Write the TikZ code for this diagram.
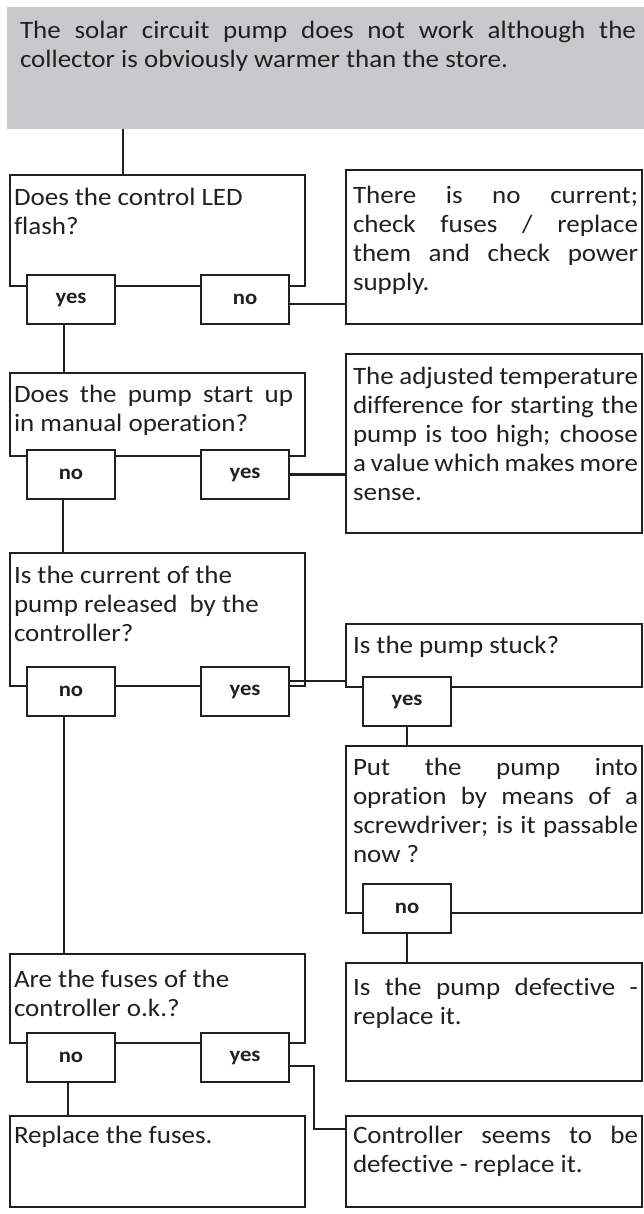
\documentclass[tikz,border=0pt]{standalone}
\usepackage{fontspec}
\setmainfont{Carlito}[FakeStretch=1.08,Ligatures=NoCommon]
\usetikzlibrary{calc}
\definecolor{ink}{RGB}{35,31,32}
\definecolor{panel}{RGB}{200,201,203}
\newcommand\fl[1]{\makebox[\linewidth][s]{#1}}
\tikzset{
  box/.style={draw=ink, line width=2.6pt, fill=white, anchor=north west, inner sep=0pt, outer sep=0pt},
  qbox/.style={box, minimum width=295pt},
  abox/.style={box, minimum width=296pt},
  lab/.style={box, minimum width=88pt, minimum height=49pt, text=ink, font=\fontsize{21}{24}\selectfont\bfseries},
  txt/.style={anchor=base west, inner sep=0pt, outer sep=0pt, text=ink, font=\fontsize{25}{29}\selectfont},
  link/.style={draw=ink, line width=2.6pt},
}
\begin{document}
\begin{tikzpicture}[x=1pt,y=1pt]
\useasboundingbox (0,0) rectangle (644,-1214);
% header
\node[anchor=north west, fill=panel, minimum width=637pt, minimum height=122pt, inner sep=0pt, outer sep=0pt] (top) at (7,-7) {};
\node[txt] (ttop) at ($(top.north west)+(13,-32)$) {\parbox[t]{616pt}{\fl{The solar circuit pump does not work although the}\\collector is obviously warmer than the store.}};
% boxes
\node[qbox, minimum height=111pt] (q1) at (10,-175) {};
\node[abox, minimum height=154pt] (a1) at (346,-170) {};
\node[qbox, minimum height=83pt] (q2) at (10,-373) {};
\node[abox, minimum height=179pt] (a2) at (346,-354) {};
\node[qbox, minimum height=133pt] (q3) at (10,-553) {};
\node[abox, minimum height=63pt] (s) at (346,-624) {};
\node[abox, minimum height=167pt] (p) at (346,-746) {};
\node[qbox, minimum height=89pt] (q4) at (10,-954) {};
\node[abox, minimum height=118pt] (d) at (346,-963) {};
\node[qbox, minimum height=91pt] (f) at (10,-1116) {};
\node[abox, minimum height=91pt] (c) at (346,-1116) {};
% labels
\node[lab] (yes1) at (27,-275) {yes};
\node[lab] (no1) at (201,-275) {no};
\node[lab] (no2) at (27,-450) {no};
\node[lab] (yes2) at (201,-450) {yes};
\node[lab] (no3) at (27,-667) {no};
\node[lab] (yes3) at (201,-667) {yes};
\node[lab] (syes) at (363,-677) {yes};
\node[lab] (pno) at (363,-884) {no};
\node[lab] (no4) at (27,-1033) {no};
\node[lab] (yes4) at (201,-1033) {yes};
% texts
\node[txt] (tq1) at ($(q1.north west)+(4,-31)$) {\parbox[t]{282pt}{Does the control LED\\flash?}};
\node[txt] (ta1) at ($(a1.north west)+(7,-34)$) {\parbox[t]{285pt}{\fl{There is no current;}\\\fl{check fuses / replace}\\\fl{them and check power}\\supply.}};
\node[txt] (tq2) at ($(q2.north west)+(4,-29)$) {\parbox[t]{282pt}{\makebox[279pt][s]{Does the pump start up}\\in manual operation?}};
\node[txt] (ta2) at ($(a2.north west)+(7,-30)$) {\parbox[t]{285pt}{\fl{The adjusted temperature}\\\fl{difference for starting the}\\\fl{pump is too high; choose}\\\fl{a value which makes more}\\sense.}};
\node[txt] (tq3) at ($(q3.north west)+(4,-30)$) {\parbox[t]{282pt}{Is the current of the\\pump released\ \ by the\\controller?}};
\node[txt] (ts) at ($(s.north west)+(7,-29)$) {\parbox[t]{285pt}{Is the pump stuck?}};
\node[txt] (tp) at ($(p.north west)+(7,-29)$) {\parbox[t]{285pt}{\fl{Put the pump into}\\\fl{opration by means of a}\\\fl{screwdriver; is it passable}\\now ?}};
\node[txt] (tq4) at ($(q4.north west)+(4,-33)$) {\parbox[t]{282pt}{Are the fuses of the\\controller o.k.?}};
\node[txt] (td) at ($(d.north west)+(7,-32)$) {\parbox[t]{285pt}{\fl{Is the pump defective -}\\replace it.}};
\node[txt] (tf) at ($(f.north west)+(4,-27)$) {\parbox[t]{282pt}{Replace the fuses.}};
\node[txt] (tc) at ($(c.north west)+(7,-27)$) {\parbox[t]{285pt}{\fl{Controller seems to be}\\defective - replace it.}};
% connectors
\coordinate (k0) at ($(q1.north west)+(113,0)$);
\draw[link] (k0) -- (k0 |- top.south);
\coordinate (k1) at ($(yes1.south west)+(37,0)$);
\draw[link] (k1) -- (k1 |- q2.north);
\coordinate (m1) at ($(no1.north east)+(0,-29)$);
\draw[link] (m1) -- (m1 -| a1.west);
\coordinate (k2) at ($(no2.south west)+(36,0)$);
\draw[link] (k2) -- (k2 |- q3.north);
\draw[link] (yes2.east) -- (yes2.east -| a2.west);
\coordinate (m3) at ($(yes3.north east)+(0,-14)$);
\draw[link] (m3) -- (m3 -| s.west);
\draw[link] (syes.south) -- (syes.south |- p.north);
\coordinate (k3) at ($(no3.south west)+(37,0)$);
\draw[link] (k3) -- (k3 |- q4.north);
\draw[link] (pno.south) -- (pno.south |- d.north);
\coordinate (k4) at ($(no4.south west)+(41,0)$);
\draw[link] (k4) -- (k4 |- f.north);
\coordinate (m4) at ($(yes4.north east)+(0,-33)$);
\coordinate (e4) at ($(c.north west)+(0,-13)$);
\draw[link] (m4) -- ++(25,0) |- (e4);
\end{tikzpicture}
\end{document}
